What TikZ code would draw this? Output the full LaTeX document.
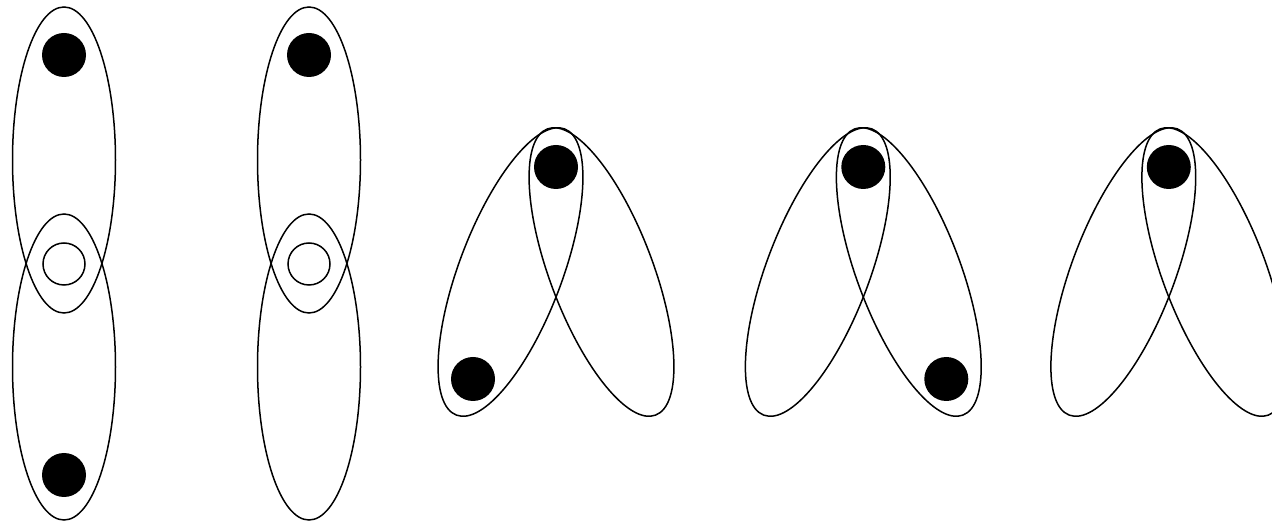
\documentclass[tikz,border=0pt]{standalone}
\begin{document}
\begin{tikzpicture}[x=1pt,y=1pt,
  loop/.style={draw=black,line width=1.5pt},
  dot/.style={fill=black},
  hole/.style={draw=black,line width=1.5pt,fill=white}]
\clip (0,0) rectangle (1272,522);
\fill[white] (0,0) rectangle (1272,522);
% figure 1
\draw[loop] (64,362) ellipse [x radius=51.5, y radius=153];
\draw[loop] (64,155) ellipse [x radius=51.5, y radius=153];
\draw[hole] (64,258) circle [radius=21];
\fill[dot] (64,467) circle [radius=22];
\fill[dot] (64,47) circle [radius=22];
% figure 2
\draw[loop] (309,362) ellipse [x radius=51.5, y radius=153];
\draw[loop] (309,155) ellipse [x radius=51.5, y radius=153];
\draw[hole] (309,258) circle [radius=21];
\fill[dot] (309,467) circle [radius=22];
% figures 3-5
\foreach \cx/\lft/\rgt in {556/1/0, 863.3/0/1, 1168.8/0/0}{
  \draw[loop,rotate around={-20.7:(\cx-45.5,250)}] (\cx-45.5,250) ellipse [x radius=51.5, y radius=153];
  \draw[loop,rotate around={20.7:(\cx+45.5,250)}] (\cx+45.5,250) ellipse [x radius=51.5, y radius=153];
  \fill[dot] (\cx,355) circle [radius=22];
  \ifnum\lft=1 \fill[dot] (\cx-83,143) circle [radius=22]; \fi
  \ifnum\rgt=1 \fill[dot] (\cx+83,143) circle [radius=22]; \fi
}
\end{tikzpicture}
\end{document}
